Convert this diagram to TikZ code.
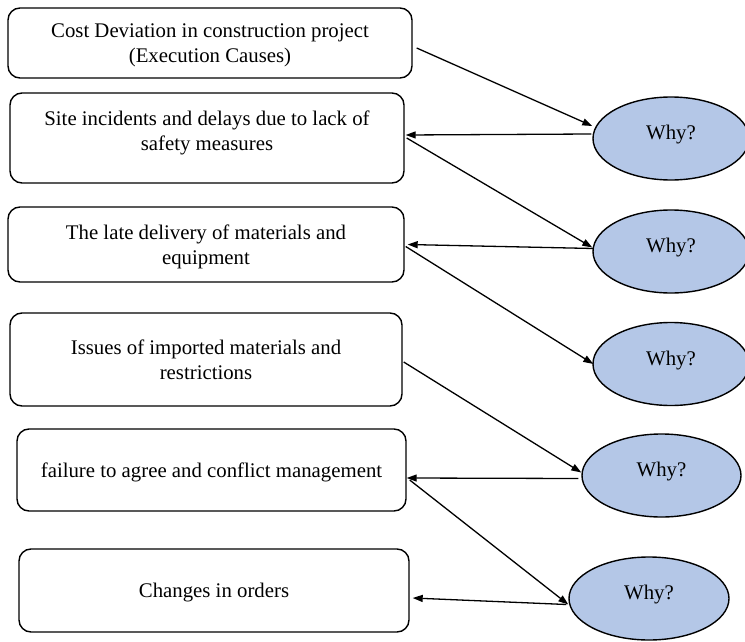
\documentclass[tikz,border=0pt]{standalone}
\usepackage{fontspec}
\setmainfont{Liberation Serif}
\usetikzlibrary{arrows.meta,calc,shapes.geometric}
\definecolor{whyfill}{RGB}{180,199,231}
\begin{document}
\begin{tikzpicture}[x=1pt,y=-1pt,
  causebox/.style={draw,line width=1.4pt,rounded corners=12pt,inner sep=0pt,align=center,
    text depth=0pt,font=\fontsize{20.8}{25}\selectfont},
  why/.style={draw,line width=1.4pt,ellipse,fill=whyfill,inner sep=0pt,
    font=\fontsize{20.8}{25}\selectfont},
  link/.style={line width=1.3pt,-{Triangle[length=10pt,width=7pt]}}]
\useasboundingbox (0,0) rectangle (745,642);
% cause boxes
\node[causebox,minimum width=404pt,minimum height=70pt] (b1) at (210,43)
  {Cost Deviation in construction project\\(Execution Causes)};
\node[causebox,minimum width=394pt,minimum height=90pt] (b2) at (207,138) {};
\node[font=\fontsize{20.8}{25}\selectfont,align=center] (t2) at (207,133)
  {Site incidents and delays due to lack of\\safety measures};
\node[causebox,minimum width=396pt,minimum height=75pt] (b3) at (206,244.5)
  {The late delivery of materials and\\equipment};
\node[causebox,minimum width=392pt,minimum height=93pt] (b4) at (206,359.5)
  {Issues of imported materials and\\restrictions};
\node[causebox,minimum width=389pt,minimum height=82pt] (b5) at (211.5,470)
  {failure to agree and conflict management};
\node[causebox,minimum width=390pt,minimum height=83pt] (b6) at (214,590.5)
  {Changes in orders};
% why ellipses
\node[why,minimum width=156pt,minimum height=83pt] (e1) at (671,138.5) {\raisebox{12pt}{Why?}};
\node[why,minimum width=156pt,minimum height=83pt] (e2) at (671,251.5) {\raisebox{13pt}{Why?}};
\node[why,minimum width=156pt,minimum height=83pt] (e3) at (671,364) {\raisebox{12pt}{Why?}};
\node[why,minimum width=159pt,minimum height=83pt] (e4) at (661.5,475.5) {\raisebox{12pt}{Why?}};
\node[why,minimum width=160pt,minimum height=83pt] (e5) at (649,598.5) {\raisebox{12pt}{Why?}};
% connectors
\draw[link] ($(b1.east)+(4,5)$) -- ($(e1.west)+(0,-12.5)$);
\draw[link] ($(e1.west)+(-1,-4.5)$) -- ($(b2.east)+(1,-3)$);
\draw[link] ($(b2.east)+(2,0)$) -- ($(e2.west)+(0,-4)$);
\draw[link] ($(e2.west)+(1,-3)$) -- ($(b3.east)+(3,0)$);
\draw[link] ($(b3.east)+(1,2)$) -- ($(e3.west)+(1,0)$);
\draw[link] ($(b4.east)+(1,2.5)$) -- ($(e4.west)+(0,-3)$);
\draw[link] ($(e4.west)+(-3,3)$) -- ($(b5.east)+(0,8)$);
\draw[link] ($(b5.east)+(3,10)$) -- ($(e5.west)+(0,6)$);
\draw[link] ($(e5.west)+(-2,6)$) -- ($(b6.east)+(3,7.5)$);
\end{tikzpicture}
\end{document}
